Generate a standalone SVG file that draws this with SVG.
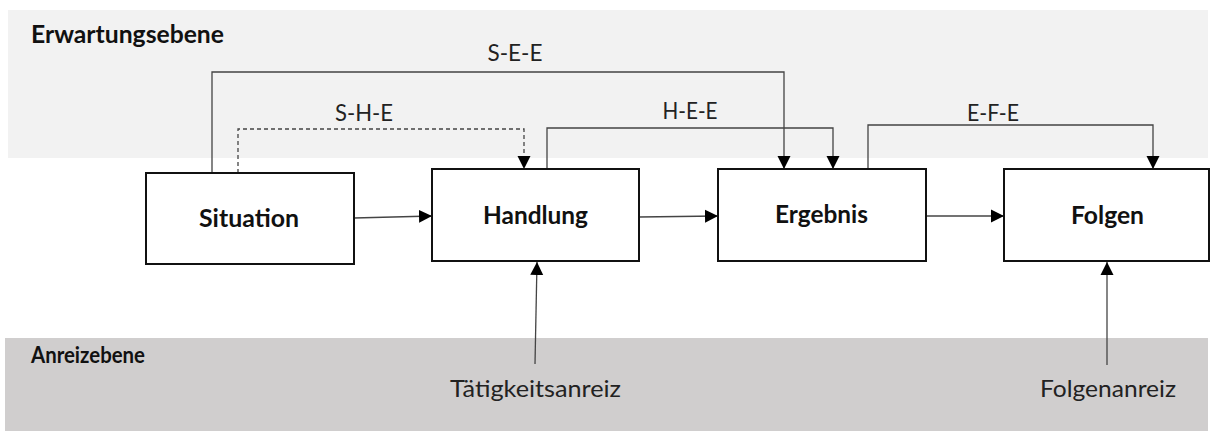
<svg xmlns="http://www.w3.org/2000/svg" width="1211" height="432" viewBox="0 0 1211 432">
  <style>
    .band-top { fill: #f2f2f2; }
    .band-bottom { fill: #d0cece; }
    .level { font-family: Lato, "Liberation Sans", sans-serif; font-weight: bold; fill: #111; }
    .box { fill: #ffffff; stroke: #111; stroke-width: 2; }
    .node-label { font-family: Lato, "Liberation Sans", sans-serif; font-weight: bold; font-size: 24px; fill: #111; text-anchor: middle; }
    .edge-label { font-family: Lato, "Liberation Sans", sans-serif; font-size: 24px; fill: #222; text-anchor: middle; }
    .conn { fill: none; stroke: #444; stroke-width: 1.3; }
    .dashed { stroke-dasharray: 4 3; }
  </style>
  <defs>
    <marker id="arrow" viewBox="0 0 12 12" markerUnits="userSpaceOnUse" markerWidth="13" markerHeight="14" refX="12" refY="6" orient="auto">
      <path d="M0,0 L12,6 L0,12 z" fill="#000"/>
    </marker>
  </defs>

  <!-- Background levels -->
  <g id="level-expectation">
    <rect class="band-top" x="8" y="10" width="1200" height="148"/>
    <text class="level" x="31" y="43" font-size="24" textLength="193" lengthAdjust="spacingAndGlyphs">Erwartungsebene</text>
  </g>
  <g id="level-incentive">
    <rect class="band-bottom" x="5" y="338" width="1203" height="93"/>
    <text class="level" x="31" y="363" font-size="22" textLength="114" lengthAdjust="spacingAndGlyphs">Anreizebene</text>
  </g>

  <!-- Connectors -->
  <g id="connectors">
    <!-- S-E-E -->
    <path class="conn" d="M212,173 V72 H784 V169" marker-end="url(#arrow)"/>
    <text class="edge-label" x="515" y="61" textLength="55" lengthAdjust="spacingAndGlyphs">S-E-E</text>
    <!-- S-H-E (dashed) -->
    <path class="conn dashed" d="M238,173 V129 H524 V169" marker-end="url(#arrow)"/>
    <text class="edge-label" x="364" y="121" textLength="58" lengthAdjust="spacingAndGlyphs">S-H-E</text>
    <!-- H-E-E -->
    <path class="conn" d="M547,169 V128 H833 V169" marker-end="url(#arrow)"/>
    <text class="edge-label" x="690" y="119" textLength="55" lengthAdjust="spacingAndGlyphs">H-E-E</text>
    <!-- E-F-E -->
    <path class="conn" d="M868,169 V125 H1153 V169" marker-end="url(#arrow)"/>
    <text class="edge-label" x="993" y="121" textLength="52" lengthAdjust="spacingAndGlyphs">E-F-E</text>
    <!-- main sequence -->
    <path class="conn" d="M354,218 L432,216" marker-end="url(#arrow)"/>
    <path class="conn" d="M639,217 L718,216" marker-end="url(#arrow)"/>
    <path class="conn" d="M926,216 L1004,216" marker-end="url(#arrow)"/>
    <!-- incentives -->
    <path class="conn" d="M535,364 L537,262" marker-end="url(#arrow)"/>
    <path class="conn" d="M1107,365 L1107,262" marker-end="url(#arrow)"/>
  </g>

  <!-- Nodes -->
  <g id="node-situation">
    <rect class="box" x="146" y="173" width="208" height="91"/>
    <text class="node-label" x="249" y="227" textLength="100" lengthAdjust="spacingAndGlyphs">Situation</text>
  </g>
  <g id="node-handlung">
    <rect class="box" x="432" y="169" width="207" height="92"/>
    <text class="node-label" x="535.5" y="224" textLength="105" lengthAdjust="spacingAndGlyphs">Handlung</text>
  </g>
  <g id="node-ergebnis">
    <rect class="box" x="718" y="169" width="208" height="92"/>
    <text class="node-label" x="821.5" y="223" textLength="93" lengthAdjust="spacingAndGlyphs">Ergebnis</text>
  </g>
  <g id="node-folgen">
    <rect class="box" x="1004" y="169" width="205" height="92"/>
    <text class="node-label" x="1107.5" y="224" textLength="73" lengthAdjust="spacingAndGlyphs">Folgen</text>
  </g>

  <!-- Incentive labels -->
  <g id="label-taetigkeitsanreiz">
    <text class="edge-label" x="535.5" y="397" textLength="171" lengthAdjust="spacingAndGlyphs">Tätigkeitsanreiz</text>
  </g>
  <g id="label-folgenanreiz">
    <text class="edge-label" x="1108" y="397" textLength="136" lengthAdjust="spacingAndGlyphs">Folgenanreiz</text>
  </g>
</svg>
